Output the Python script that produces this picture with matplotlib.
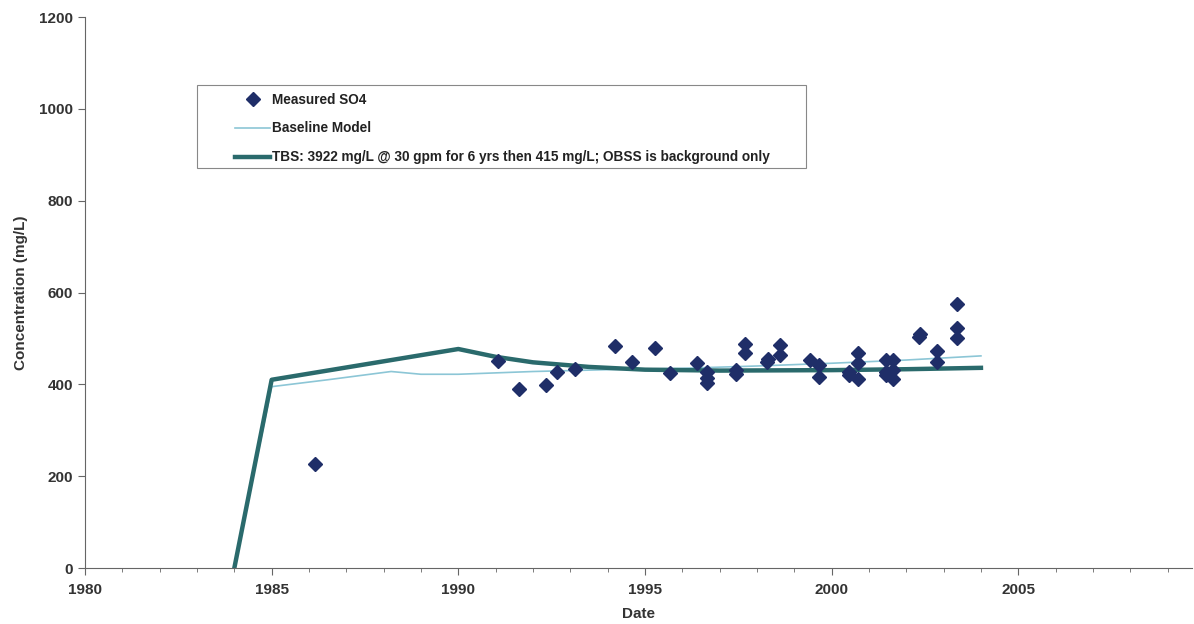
import matplotlib.pyplot as plt
from matplotlib.patches import Rectangle
from matplotlib.ticker import MultipleLocator

plt.rcParams['font.family'] = ['Liberation Sans', 'DejaVu Sans']

# measured SO4 (decimal year, mg/L)
meas_year = [1986.17, 1991.07, 1991.63, 1992.35, 1992.64, 1993.13, 1994.2, 1994.65,
             1995.27, 1995.66, 1996.4, 1996.65, 1996.65, 1996.65, 1997.45, 1997.45,
             1997.67, 1997.67, 1998.27, 1998.3, 1998.63, 1998.63, 1999.41, 1999.65,
             1999.65, 2000.46, 2000.46, 2000.7, 2000.7, 2000.7, 2001.45, 2001.45,
             2001.45, 2001.65, 2001.65, 2001.65, 2002.34, 2002.36, 2002.83, 2002.83,
             2003.37, 2003.37, 2003.37]
meas_so4 = [226, 450, 389, 398, 428, 433, 484, 449,
            479, 425, 446, 428, 413, 403, 431, 423,
            488, 468, 449, 455, 486, 465, 453, 442,
            417, 428, 420, 468, 447, 411, 453, 428,
            420, 453, 431, 411, 504, 510, 473, 449,
            576, 522, 502]

base_year = [1984.0, 1985.0, 1986.5, 1988.2, 1989.0, 1990.0, 1992.0, 1994.0,
             1996.0, 1998.0, 2000.0, 2002.0, 2004.0]
base_so4 = [0, 395, 410, 428, 422, 422, 428, 432, 435, 440, 446, 453, 462]

tbs_year = [1984.0, 1985.0, 1990.0, 1991.0, 1992.0, 1993.5, 1995.0, 1997.0,
            2000.0, 2002.0, 2004.0]
tbs_so4 = [0, 410, 477, 460, 448, 438, 432, 430, 431, 433, 436]

fig = plt.figure(figsize=(11.94, 6.24), dpi=100)
ax = fig.add_axes([0.0712, 0.0897, 0.927, 0.883])

ax.plot(meas_year, meas_so4, linestyle='none', marker='D', markersize=7.5,
        color='#1f2e68', label='Measured SO4', zorder=3)
ax.plot(base_year, base_so4, color='#8cc6d6', linewidth=1.2, label='Baseline Model')
ax.plot(tbs_year, tbs_so4, color='#2a6a6c', linewidth=3.2,
        label='TBS: 3922 mg/L @ 30 gpm for 6 yrs then 415 mg/L; OBSS is background only')

ax.set_xlim(1980, 2009.65)
ax.set_ylim(0, 1200)
ax.xaxis.set_major_locator(MultipleLocator(5))
ax.xaxis.set_minor_locator(MultipleLocator(1))
ax.yaxis.set_major_locator(MultipleLocator(200))

for s in ['top', 'right']:
    ax.spines[s].set_visible(False)
for s in ['left', 'bottom']:
    ax.spines[s].set_color('#666666')
ax.tick_params(axis='both', which='both', direction='out', color='#666666',
               labelsize=11, labelcolor='#333333')
ax.tick_params(axis='x', which='major', length=5, pad=6)
ax.tick_params(axis='x', which='minor', length=3)
ax.tick_params(axis='y', length=5)
for lab in ax.get_xticklabels() + ax.get_yticklabels():
    lab.set_fontweight('bold')

ax.set_xlabel('Date', fontsize=11, fontweight='bold', color='#333333', labelpad=7)
ax.set_ylabel('Concentration (mg/L)', fontsize=11, fontweight='bold',
              color='#333333', labelpad=8)

# legend box drawn separately (wide side padding like the original)
ax.add_patch(Rectangle((0.1012, 0.726), 0.5501, 0.1506, transform=ax.transAxes,
                       facecolor='white', edgecolor='#888888', linewidth=0.8, zorder=4))
leg = ax.legend(loc='upper left', bbox_to_anchor=(0.1355, 0.863),
                frameon=False, handlelength=2.6, borderpad=0, borderaxespad=0,
                labelspacing=1.1, handletextpad=0.15, prop={'weight': 'bold', 'size': 9.8})
leg.set_zorder(5)
for t in leg.get_texts():
    t.set_color('#222222')

fig.savefig('out.png')
